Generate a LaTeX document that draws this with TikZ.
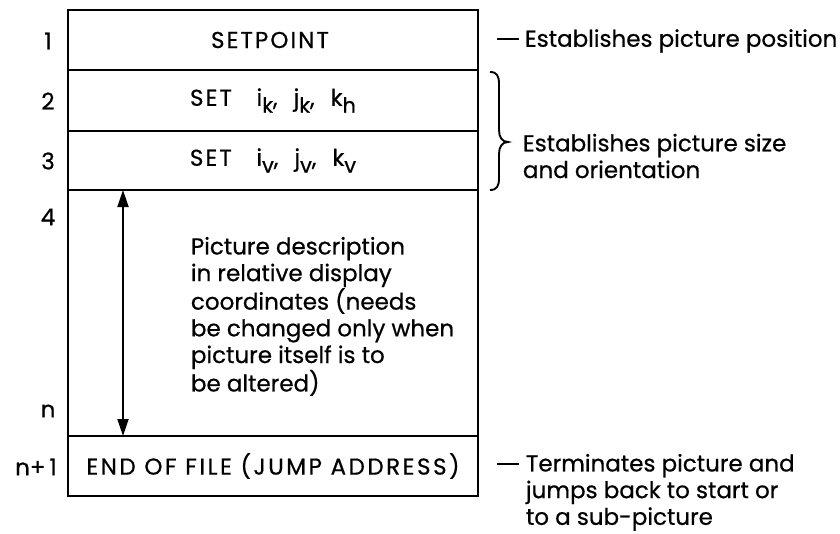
\documentclass[tikz,border=0pt]{standalone}
\usepackage{fontspec}
\setmainfont{Poppins}[FakeBold=0.6]
\usetikzlibrary{arrows.meta}
\newcommand\mysub[1]{\raisebox{-0.55ex}{\fontsize{21}{21}\selectfont #1}}
\newcommand\mygap{\hspace{16pt}}
\begin{document}
\begin{tikzpicture}[x=1pt,y=-1pt,line width=1.9pt,
  txt/.style={font=\fontsize{23}{26.7}\selectfont, inner sep=0pt},
  rowbox/.style={draw, minimum width=410pt, inner sep=0pt, font=\fontsize{23}{26.7}\selectfont\addfontfeature{LetterSpace=9}},
  lbl/.style={txt},
  dbl/.style={{Triangle[length=17pt,width=11pt]}-{Triangle[length=17pt,width=11pt]}}]
\useasboundingbox (0,0) rectangle (840,533);
\node[rowbox, minimum height=60pt] (r1) at (273,40) {SETPOINT\hspace*{6pt}};
\node[rowbox, minimum height=61pt] (r2) at (273,100.5) {SET~~~i\mysub{k},\mygap j\mysub{k},\mygap k\mysub{h}};
\node[rowbox, minimum height=59pt] (r3) at (273,160.5) {SET~~~i\mysub{v},\mygap j\mysub{v},\mygap k\mysub{v}};
\node[rowbox, minimum height=246pt] (r4) at (273,313) {};
\node[rowbox, minimum height=60pt, font=\fontsize{23}{26.7}\selectfont\addfontfeature{LetterSpace=11}] (r5) at (273,466) {END OF FILE (JUMP ADDRESS)};
\node[lbl] (l1) at (48,41) {1};
\node[lbl] (l2) at (48,101) {2};
\node[lbl] (l3) at (48,161) {3};
\node[lbl] (l4) at (48,217) {4};
\node[lbl] (ln) at (48,411) {n};
\node[lbl] (ln1) at (36,467) {n+\,1};
\coordinate (at) at (123,190);
\coordinate (ab) at (123,436);
\draw[dbl] (at) -- (ab);
\node[txt, anchor=north west, align=left] (desc) at (190,236) {Picture description\\in relative display\\coordinates (needs\\be changed only when\\picture itself is to\\be altered)};
\coordinate (d1a) at (497,39);
\coordinate (d1b) at (519,39);
\draw (d1a) -- (d1b);
\node[txt, anchor=west] (t1) at (524,41) {Establishes picture position};
\draw (490,72) .. controls (497,72) and (499,76) .. (499,84) -- (499,130)
  .. controls (499,137) and (502,142) .. (508,142)
  .. controls (502,142) and (499,147) .. (499,154) -- (499,178)
  .. controls (499,186) and (497,190) .. (490,190);
\node[txt, anchor=west, align=left] (t2) at (522,156) {Establishes picture size\\and orientation};
\coordinate (d2a) at (497,464);
\coordinate (d2b) at (519,464);
\draw (d2a) -- (d2b);
\node[txt, anchor=north west, align=left] (t3) at (525,453) {Terminates picture and\\jumps back to start or\\to a sub-picture};
\end{tikzpicture}
\end{document}
